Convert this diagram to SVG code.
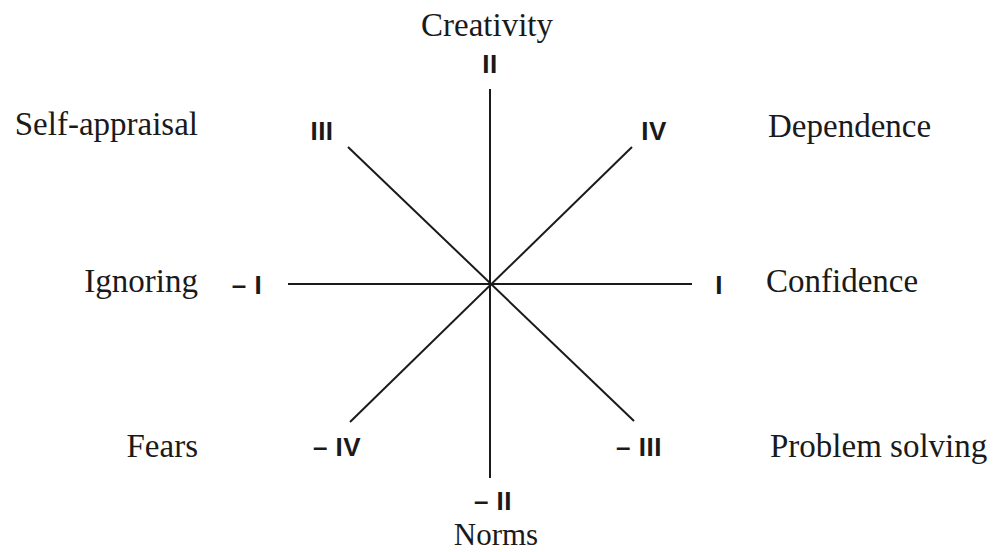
<svg xmlns="http://www.w3.org/2000/svg" width="994" height="552" viewBox="0 0 994 552">
<style>
.ax{stroke:#1a1a1a;stroke-width:2;fill:none;stroke-linecap:butt}
.t{font-family:"Liberation Serif","Times New Roman",serif;font-size:33px;fill:#1a1a1a}
.r{font-family:"Liberation Sans",Arial,sans-serif;font-weight:bold;font-size:26px;letter-spacing:0.5px;fill:#1a1a1a}
</style>
<rect width="994" height="552" fill="#ffffff"/>
<g id="connectors">
<line class="ax" x1="490" y1="89" x2="490" y2="478"/>
<line class="ax" x1="288" y1="284" x2="692" y2="284"/>
<line class="ax" x1="348" y1="147" x2="634" y2="421"/>
<line class="ax" x1="632" y1="147" x2="350" y2="422"/>
</g>
<g id="node-II"><text class="r" x="490" y="73" text-anchor="middle">II</text><text class="t" x="487" y="36" text-anchor="middle">Creativity</text></g>
<g id="node-III"><text class="r" x="322" y="140" text-anchor="middle">III</text><text class="t" x="198" y="135" text-anchor="end">Self-appraisal</text></g>
<g id="node-IV"><text class="r" x="654" y="140" text-anchor="middle">IV</text><text class="t" x="768" y="137">Dependence</text></g>
<g id="node-negI"><text class="r" x="247" y="294" text-anchor="middle">– I</text><text class="t" x="198" y="292" text-anchor="end">Ignoring</text></g>
<g id="node-I"><text class="r" x="719" y="294" text-anchor="middle">I</text><text class="t" x="766" y="292">Confidence</text></g>
<g id="node-negIV"><text class="r" x="337" y="456" text-anchor="middle">– IV</text><text class="t" x="198" y="457" text-anchor="end">Fears</text></g>
<g id="node-negIII"><text class="r" x="639" y="456" text-anchor="middle">– III</text><text class="t" x="770" y="457">Problem solving</text></g>
<g id="node-negII"><text class="r" x="493" y="510" text-anchor="middle">– II</text><text class="t" x="496" y="545" text-anchor="middle" style="font-size:31px">Norms</text></g>
</svg>
